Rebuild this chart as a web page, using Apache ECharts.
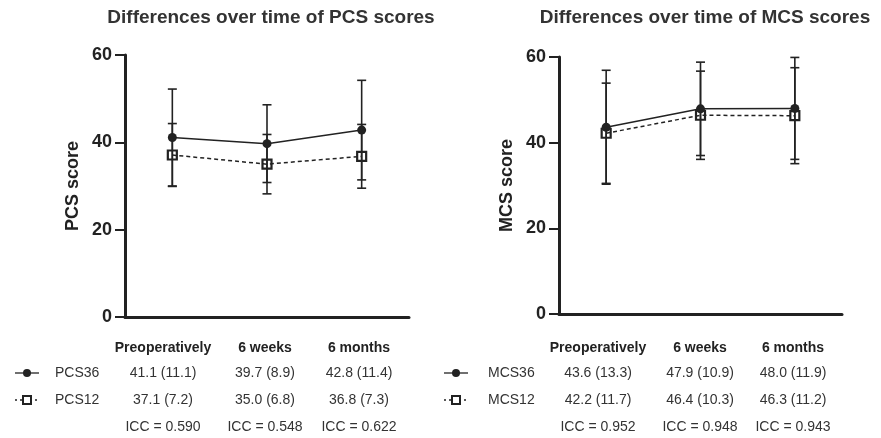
<!DOCTYPE html>
<html lang="en">
<head>
  <meta charset="UTF-8">
  <title>PCS / MCS over time</title>
  <script src="https://cdn.jsdelivr.net/npm/echarts@6/dist/echarts.min.js"></script>
</head>
<body style="margin: 0; background: #fff">
  <div id="container" style="width: 881px; height: 438px"></div>
  <script>
    // time points
    var timepoints = ['Preoperatively', '6 weeks', '6 months'];

    // PCS: mean and SD
    var pcs36Mean = [41.1, 39.7, 42.8];
    var pcs36Sd = [11.1, 8.9, 11.4];
    var pcs12Mean = [37.1, 35.0, 36.8];
    var pcs12Sd = [7.2, 6.8, 7.3];
    var pcsIcc = ['0.590', '0.548', '0.622'];

    // MCS: mean and SD
    var mcs36Mean = [43.6, 47.9, 48.0];
    var mcs36Sd = [13.3, 10.9, 11.9];
    var mcs12Mean = [42.2, 46.4, 46.3];
    var mcs12Sd = [11.7, 10.3, 11.2];
    var mcsIcc = ['0.952', '0.948', '0.943'];

    var yTicks = [0, 20, 40, 60];

    var ink = '#222';
    var font = 'Arial, "Liberation Sans", sans-serif';

    var chart = echarts.init(document.getElementById('container'));

    function errorData(mean, sd) {
      return mean.map(function (m, i) { return [i, m, sd[i]]; });
    }

    function renderError(params, api) {
      var x = api.value(0), m = api.value(1), s = api.value(2);
      var top = api.coord([x, m + s]);
      var bot = api.coord([x, m - s]);
      var hw = 4.5;
      var st = { stroke: ink, lineWidth: 1.6 };
      return {
        type: 'group',
        children: [
          { type: 'line', shape: { x1: top[0], y1: top[1], x2: bot[0], y2: bot[1] }, style: st },
          { type: 'line', shape: { x1: top[0] - hw, y1: top[1], x2: top[0] + hw, y2: top[1] }, style: st },
          { type: 'line', shape: { x1: bot[0] - hw, y1: bot[1], x2: bot[0] + hw, y2: bot[1] }, style: st }
        ]
      };
    }

    function xAxis(idx) {
      return {
        type: 'category', gridIndex: idx, data: timepoints,
        boundaryGap: true,
        axisLine: { lineStyle: { color: ink, width: 3 } },
        axisTick: { alignWithLabel: true, length: 10, lineStyle: { color: ink, width: 2 } },
        axisLabel: { show: false }
      };
    }

    function yAxis(idx, name) {
      return {
        type: 'value', gridIndex: idx, min: 0, max: 60, interval: 20,
        name: name, nameLocation: 'middle', nameGap: 43,
        nameTextStyle: { color: ink, fontFamily: font, fontWeight: 'bold', fontSize: 18 },
        splitLine: { show: false },
        axisLine: { show: true, lineStyle: { color: ink, width: 3 } },
        axisTick: { show: true, length: 10, lineStyle: { color: ink, width: 2 } },
        axisLabel: {
          margin: 13, color: ink, fontFamily: font, fontWeight: 'bold', fontSize: 18,
          formatter: function (v) { return yTicks.indexOf(v) >= 0 ? String(v) : ''; }
        }
      };
    }

    function lineSeries(idx, name, data, dashed) {
      return {
        name: name, type: 'line', xAxisIndex: idx, yAxisIndex: idx, data: data, z: 5,
        symbol: dashed ? 'rect' : 'circle',
        symbolSize: dashed ? 9 : 9,
        itemStyle: dashed
          ? { color: 'rgba(255,255,255,0)', borderColor: ink, borderWidth: 2.2 }
          : { color: ink },
        lineStyle: { color: ink, width: 1.5, type: dashed ? [4, 3] : 'solid' },
        emphasis: { disabled: true },
        animation: false
      };
    }

    function errSeries(idx, mean, sd) {
      return {
        type: 'custom', xAxisIndex: idx, yAxisIndex: idx, z: 3,
        data: errorData(mean, sd), renderItem: renderError, animation: false
      };
    }

    // table under each chart
    function fmt(m, s) { return m.toFixed(1) + ' (' + s.toFixed(1) + ')'; }

    function table(cols, symX, labX, names, rows, icc) {
      var els = [];
      var txt = function (x, y, t, bold, align) {
        els.push({
          type: 'text', x: x, y: y,
          style: {
            text: t, fill: bold ? ink : '#333', font: (bold ? 'bold ' : '') + '14px ' + font,
            textAlign: align || 'center', textVerticalAlign: 'middle'
          }
        });
      };
      timepoints.forEach(function (t, i) { txt(cols[i], 348, t, true); });
      var rowY = [373, 400];
      rows.forEach(function (r, k) {
        var y = rowY[k];
        els.push({ type: 'line', shape: { x1: symX - 12, y1: y, x2: symX + 12, y2: y },
          style: { stroke: ink, lineWidth: 1.3, lineDash: k ? [2, 3] : null } });
        if (k === 0) {
          els.push({ type: 'circle', shape: { cx: symX, cy: y, r: 4 }, style: { fill: ink } });
        } else {
          els.push({ type: 'rect', shape: { x: symX - 4, y: y - 4, width: 8, height: 8 },
            style: { fill: '#fff', stroke: ink, lineWidth: 2 } });
        }
        txt(labX, y, names[k], false, 'left');
        r[0].forEach(function (m, i) { txt(cols[i], y, fmt(m, r[1][i])); });
      });
      icc.forEach(function (v, i) { txt(cols[i], 427, 'ICC = ' + v); });
      return els;
    }

    var graphics = []
      .concat(table([163, 265, 359], 27, 55, ['PCS36', 'PCS12'],
        [[pcs36Mean, pcs36Sd], [pcs12Mean, pcs12Sd]], pcsIcc))
      .concat(table([598, 700, 793], 456, 488, ['MCS36', 'MCS12'],
        [[mcs36Mean, mcs36Sd], [mcs12Mean, mcs12Sd]], mcsIcc));

    var option = {
      backgroundColor: '#fff',
      animation: false,
      title: [
        { text: 'Differences over time of PCS scores', left: 266, top: 3, textAlign: 'center',
          textStyle: { color: '#333', fontFamily: font, fontWeight: 'bold', fontSize: 19 } },
        { text: 'Differences over time of MCS scores', left: 700, top: 3, textAlign: 'center',
          textStyle: { color: '#333', fontFamily: font, fontWeight: 'bold', fontSize: 19 } }
      ],
      grid: [
        { left: 125, top: 55, width: 284, height: 262 },
        { left: 559, top: 57, width: 283, height: 257 }
      ],
      xAxis: [xAxis(0), xAxis(1)],
      yAxis: [yAxis(0, 'PCS score'), yAxis(1, 'MCS score')],
      series: [
        errSeries(0, pcs36Mean, pcs36Sd),
        errSeries(0, pcs12Mean, pcs12Sd),
        lineSeries(0, 'PCS36', pcs36Mean, false),
        lineSeries(0, 'PCS12', pcs12Mean, true),
        errSeries(1, mcs36Mean, mcs36Sd),
        errSeries(1, mcs12Mean, mcs12Sd),
        lineSeries(1, 'MCS36', mcs36Mean, false),
        lineSeries(1, 'MCS12', mcs12Mean, true)
      ],
      graphic: graphics
    };

    chart.setOption(option);
  </script>
</body>
</html>
